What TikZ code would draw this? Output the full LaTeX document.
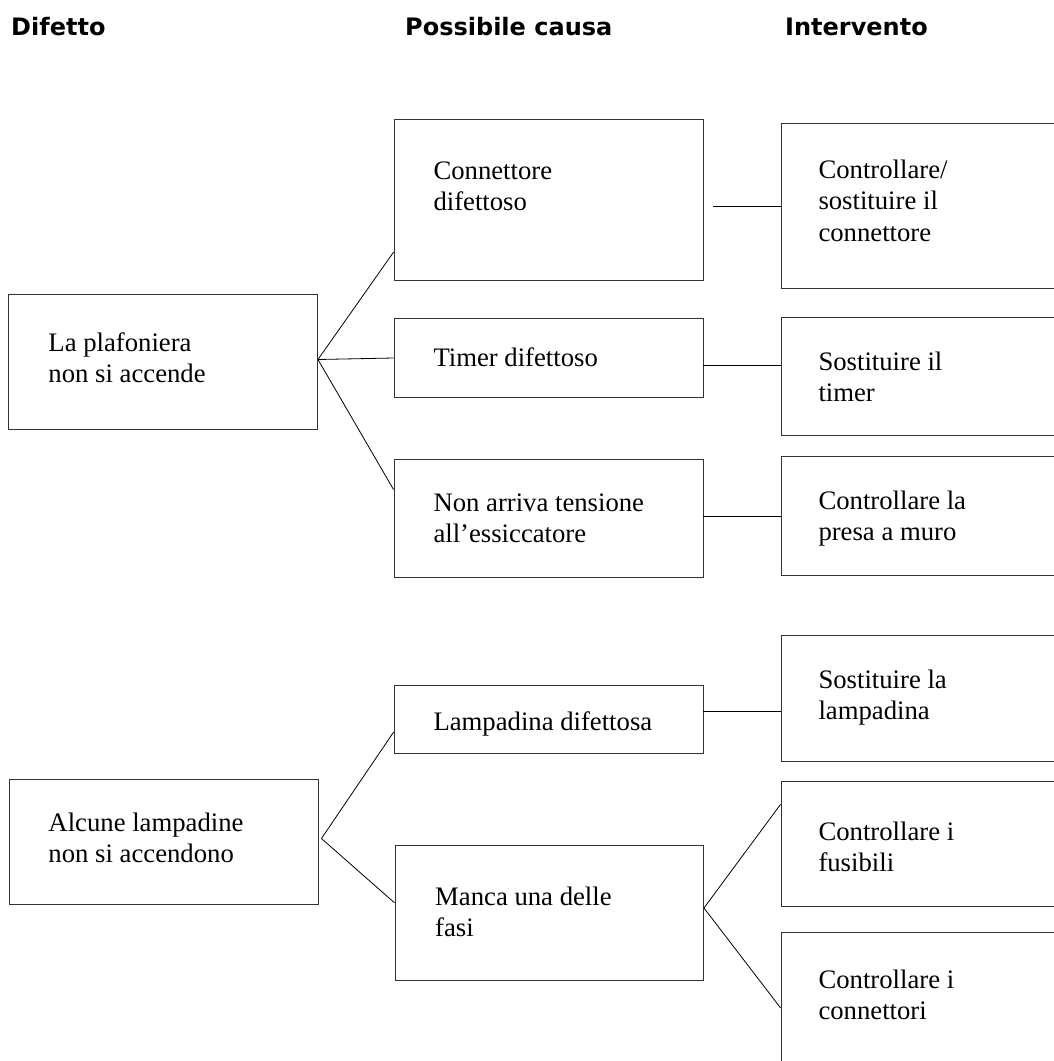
\documentclass[tikz,border=0pt]{standalone}
\usepackage{fontspec}
\setmainfont{Liberation Serif}
\newfontfamily\headfont{DejaVu Sans}
\newcommand{\mylines}[1]{\parbox[t]{300bp}{\raggedright #1}}
\tikzset{
  box/.style={draw=black!80, line width=0.9bp, rectangle, inner sep=0pt},
  conn/.style={draw=black, line width=0.8bp},
  txt/.style={anchor=base west, inner sep=0pt, font=\fontsize{26.7bp}{31.5bp}\selectfont},
  head/.style={anchor=base west, inner sep=0pt, font=\headfont\bfseries\fontsize{24bp}{28bp}\selectfont},
}
\begin{document}
\begin{tikzpicture}[x=1bp, y=-1bp]
\useasboundingbox (0,0) rectangle (1054,1061);
\clip (0,0) rectangle (1054,1061);
\fill[white] (0,0) rectangle (1054,1061);

% headers
\node[head] (h1) at (11,35) {Difetto};
\node[head] (h2) at (405,35) {Possibile causa};
\node[head] (h3) at (785,35) {Intervento};

% left boxes
\node[box, minimum width=309bp, minimum height=135bp] (L1) at (163,361.5) {};
\node[box, minimum width=309.5bp, minimum height=125bp] (L2) at (163.75,841.5) {};

% cause boxes
\node[box, minimum width=309bp, minimum height=161bp] (C1) at (548.5,200) {};
\node[box, minimum width=309bp, minimum height=79bp] (C2) at (548.5,358) {};
\node[box, minimum width=309bp, minimum height=118.5bp] (C3) at (548.5,518.25) {};
\node[box, minimum width=309bp, minimum height=68bp] (C4) at (548.5,719) {};
\node[box, minimum width=308.5bp, minimum height=134.5bp] (C5) at (549.25,912.75) {};

% intervention boxes (cut off at right edge)
\node[box, minimum width=340bp, minimum height=165bp] (R1) at (951,206) {};
\node[box, minimum width=340bp, minimum height=118.2bp] (R2) at (951,376.6) {};
\node[box, minimum width=340bp, minimum height=119.5bp] (R3) at (951,515.75) {};
\node[box, minimum width=340bp, minimum height=125.3bp] (R4) at (951,698.35) {};
\node[box, minimum width=340bp, minimum height=125.4bp] (R5) at (951,844) {};
\node[box, minimum width=340bp, minimum height=187.7bp] (R6) at (951,1026.15) {};

% texts
\node[txt] (tL1) at (48.3,351) {\mylines{La plafoniera\\non si accende}};
\node[txt] (tL2) at (48.3,831) {\mylines{Alcune lampadine\\non si accendono}};
\node[txt] (tC1) at (433.3,179.3) {\mylines{Connettore\\difettoso}};
\node[txt] (tC2) at (433.3,366.7) {Timer difettoso};
\node[txt] (tC3) at (433.3,511) {\mylines{Non arriva tensione\\all’essiccatore}};
\node[txt] (tC4) at (433.3,730) {Lampadina difettosa};
\node[txt] (tC5) at (435,905) {\mylines{Manca una delle\\fasi}};
\node[txt] (tR1) at (818.3,178.3) {\mylines{Controllare/\\sostituire il\\connettore}};
\node[txt] (tR2) at (818.3,370) {\mylines{Sostituire il\\timer}};
\node[txt] (tR3) at (818.3,509.3) {\mylines{Controllare la\\presa a muro}};
\node[txt] (tR4) at (818.3,688.3) {\mylines{Sostituire la\\lampadina}};
\node[txt] (tR5) at (818.3,840) {\mylines{Controllare i\\fusibili}};
\node[txt] (tR6) at (818.3,988.3) {\mylines{Controllare i\\connettori}};

% connectors
\draw[conn] ([yshift=2bp]L1.east) -- ([yshift=28.8bp]C1.south west);
\draw[conn] ([yshift=2bp]L1.east) -- (C2.west);
\draw[conn] ([yshift=2bp]L1.east) -- ([yshift=-31bp]C3.north west);
\coordinate (c1o) at (713,206);
\draw[conn] (c1o) -- (R1.west);
\draw[conn] ([yshift=-7bp]C2.east) -- ([yshift=-7bp]C2.east -| R2.west);
\draw[conn] ([yshift=1.5bp]C3.east) -- ([yshift=1.5bp]C3.east -| R3.west);
\draw[conn] ([xshift=2.5bp,yshift=3bp]L2.east) -- ([yshift=21.3bp]C4.south west);
\draw[conn] ([xshift=2.5bp,yshift=3bp]L2.east) -- ([yshift=-57.8bp]C5.north west);
\draw[conn] ([yshift=8bp]C4.east) -- ([yshift=8bp]C4.east -| R4.west);
\draw[conn] ([yshift=4.75bp]C5.east) -- ([yshift=-23.5bp]R5.north west);
\draw[conn] ([yshift=4.75bp]C5.east) -- ([yshift=-76bp]R6.north west);
\end{tikzpicture}
\end{document}
